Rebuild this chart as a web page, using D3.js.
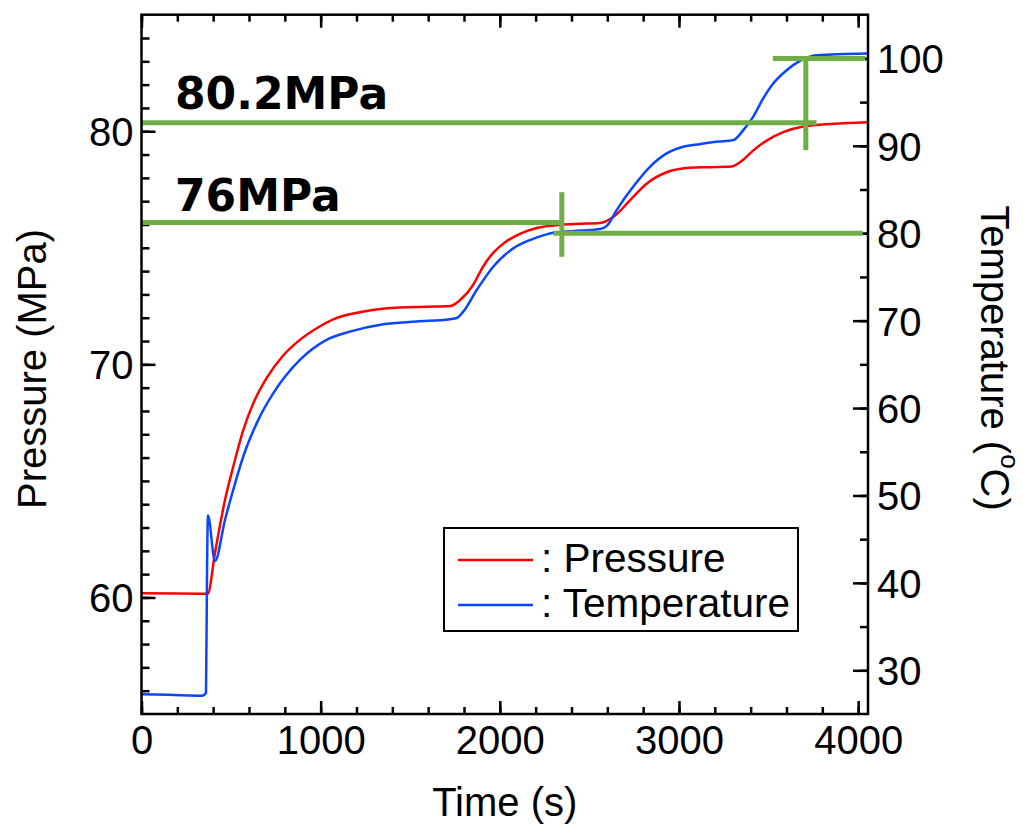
<!DOCTYPE html>
<meta charset="utf-8">
<style>

body {
  margin: 0;
  background: white;
}

text {
  font-family: "Liberation Sans", Arial, sans-serif;
  fill: #000;
}

.axis text {
  font-size: 40px;
}

.axis line {
  stroke: #000;
  stroke-width: 2.5px;
}

.axis .domain {
  display: none;
}

.frame {
  fill: none;
  stroke: #000;
  stroke-width: 2.5px;
}

.series {
  fill: none;
  stroke-width: 2.5px;
  stroke-linejoin: round;
}

.guides line {
  stroke: #70ad47;
  stroke-width: 5px;
}

.note {
  font-family: "DejaVu Sans", Verdana, sans-serif;
  font-weight: bold;
  font-size: 44px;
}

.title {
  font-size: 40px;
}

.legend rect {
  fill: white;
  stroke: #000;
  stroke-width: 2px;
}

.legend text {
  font-size: 40.5px;
}

</style>
<svg></svg>
<script src="https://cdn.jsdelivr.net/npm/d3@7"></script>
<script>

// pressure trace (s, MPa)
var pressureTime = [0, 200, 370, 410, 466, 512, 568, 624, 699, 791, 884, 978, 1070, 1257, 1443, 1600, 1722, 1777, 1852, 1889, 1926, 1963, 2019, 2112, 2205, 2335, 2450, 2559, 2633, 2726, 2819, 2931, 3042, 3154, 3294, 3340, 3414, 3489, 3582, 3693, 3861, 4050];
var pressureValues = [60.18, 60.17, 60.16, 61.9, 64.18, 65.61, 67.18, 68.33, 69.42, 70.38, 71.05, 71.55, 71.93, 72.29, 72.44, 72.47, 72.5, 72.75, 73.42, 73.95, 74.42, 74.78, 75.18, 75.6, 75.85, 75.99, 76.03, 76.06, 76.32, 77.03, 77.75, 78.24, 78.42, 78.46, 78.49, 78.67, 79.17, 79.6, 79.96, 80.2, 80.32, 80.39];

// temperature trace (s, degC)
var tempTime = [0, 150, 340, 360, 366, 371, 410, 466, 512, 568, 652, 736, 884, 1033, 1163, 1349, 1536, 1722, 1760, 1796, 1871, 1963, 2075, 2168, 2261, 2298, 2450, 2559, 2600, 2652, 2744, 2838, 2931, 3024, 3117, 3210, 3303, 3359, 3414, 3470, 3526, 3601, 3675, 3768, 4050];
var tempValues = [27.25, 27.2, 27.1, 27.4, 42, 47.7, 42.5, 47.2, 50.65, 54.46, 58.65, 61.7, 65.5, 67.8, 68.74, 69.6, 69.9, 70.16, 70.3, 71.03, 73.5, 76.17, 78.27, 79.22, 79.87, 80.05, 80.3, 80.48, 80.9, 82.65, 85.31, 87.6, 89.13, 89.89, 90.19, 90.46, 90.65, 91.79, 93.31, 95.42, 97.13, 98.65, 99.71, 100.37, 100.56];

var timeTicks = [0, 1000, 2000, 3000, 4000];
var pressureTicks = [60, 70, 80];
var tempTicks = [30, 40, 50, 60, 70, 80, 90, 100];

// green marker lines: [axis, t0, t1, v0, v1]
var guideSegments = [
  ['p', 0, 3768, 80.36, 80.36],
  ['t', 3708, 3708, 89.5, 100],
  ['t', 3524, 4040, 100, 100],
  ['p', 0, 2346, 76.09, 76.09],
  ['t', 2346, 2346, 77.3, 84.7],
  ['t', 2298, 4025, 80, 80]
];

var notes = [['80.2MPa', 80.95], ['76MPa', 76.6]];

var width = 1023;
var height = 827;
var plotLeft = 141.5, plotRight = 868, plotTop = 14.7, plotBottom = 714;

var svg = d3.select('svg')
  .attr('width', width)
  .attr('height', height);

var x = d3.scaleLinear().domain([0, 4055]).range([plotLeft, plotRight]);
var yP = d3.scaleLinear().domain([55, 85]).range([plotBottom, plotTop]);
var yT = d3.scaleLinear().domain([25, 105]).range([plotBottom, plotTop]);

svg.append('clipPath')
  .attr('id', 'plot')
  .append('rect')
  .attr('x', plotLeft).attr('y', plotTop)
  .attr('width', plotRight - plotLeft).attr('height', plotBottom - plotTop);

// ticks: minor then major on each side
function addAxis(axis, translate, cls) {
  return svg.append('g')
    .attr('class', 'axis ' + (cls || ''))
    .attr('transform', translate)
    .call(axis);
}

addAxis(d3.axisBottom(x).tickValues(d3.range(0, 4055, 200)).tickSize(-7).tickFormat(''), 'translate(0,' + plotBottom + ')');
addAxis(d3.axisBottom(x).tickValues(timeTicks).tickSize(-13).tickPadding(12).tickFormat(d3.format('d')), 'translate(0,' + plotBottom + ')', 'xaxis');
addAxis(d3.axisTop(x).tickValues(d3.range(0, 4055, 200)).tickSize(-7).tickFormat(''), 'translate(0,' + plotTop + ')');
addAxis(d3.axisTop(x).tickValues(timeTicks).tickSize(-13).tickFormat(''), 'translate(0,' + plotTop + ')');

addAxis(d3.axisLeft(yP).tickValues(d3.range(56, 85)).tickSize(-8).tickFormat(''), 'translate(' + plotLeft + ',0)');
addAxis(d3.axisLeft(yP).tickValues(pressureTicks).tickSize(-14).tickPadding(8), 'translate(' + plotLeft + ',0)');

addAxis(d3.axisRight(yT).tickValues(d3.range(30, 105, 5)).tickSize(-8).tickFormat(''), 'translate(' + plotRight + ',0)');
addAxis(d3.axisRight(yT).tickValues(tempTicks).tickSize(-15).tickPadding(9), 'translate(' + plotRight + ',0)');

svg.selectAll('.axis text').attr('dy', '0.36em');
svg.selectAll('.xaxis text').attr('dy', '0.71em');

var plot = svg.append('g').attr('clip-path', 'url(#plot)');

var pressureLine = d3.line()
  .curve(d3.curveMonotoneX)
  .x(function (d, i) { return x(pressureTime[i]); })
  .y(function (d) { return yP(d); });

var tempLine = d3.line()
  .curve(d3.curveMonotoneX)
  .x(function (d, i) { return x(tempTime[i]); })
  .y(function (d) { return yT(d); });

plot.append('path')
  .attr('class', 'series')
  .attr('stroke', '#ff0000')
  .attr('d', pressureLine(pressureValues));

plot.append('path')
  .attr('class', 'series')
  .attr('stroke', '#0a46ff')
  .attr('d', tempLine(tempValues));

svg.append('g')
  .attr('class', 'guides')
  .selectAll('line')
  .data(guideSegments)
  .enter().append('line')
  .attr('x1', function (d) { return x(d[1]); })
  .attr('x2', function (d) { return x(d[2]); })
  .attr('y1', function (d) { return (d[0] === 'p' ? yP : yT)(d[3]); })
  .attr('y2', function (d) { return (d[0] === 'p' ? yP : yT)(d[4]); });

svg.selectAll('.note')
  .data(notes)
  .enter().append('text')
  .attr('class', 'note')
  .attr('x', 175)
  .attr('y', function (d) { return yP(d[1]); })
  .text(function (d) { return d[0]; });

svg.append('rect')
  .attr('class', 'frame')
  .attr('x', plotLeft).attr('y', plotTop)
  .attr('width', plotRight - plotLeft).attr('height', plotBottom - plotTop);

// axis titles
svg.append('text')
  .attr('class', 'title')
  .attr('x', (plotLeft + plotRight) / 2)
  .attr('y', 816)
  .attr('text-anchor', 'middle')
  .text('Time (s)');

svg.append('text')
  .attr('class', 'title')
  .attr('transform', 'translate(46,369) rotate(-90)')
  .attr('text-anchor', 'middle')
  .text('Pressure (MPa)');

var tTitle = svg.append('text')
  .attr('class', 'title')
  .attr('transform', 'translate(981,358) rotate(90)')
  .attr('text-anchor', 'middle');
tTitle.append('tspan').text('Temperature (');
tTitle.append('tspan').attr('font-size', '26px').attr('dy', '-0.75em').text('o');
tTitle.append('tspan').attr('dy', '0.5em').text('C)');

// legend
var legend = svg.append('g').attr('class', 'legend');
legend.append('rect')
  .attr('x', 444).attr('y', 528)
  .attr('width', 354).attr('height', 103);

var legendItems = [['Pressure', '#ff0000', 560, 572], ['Temperature', '#0a46ff', 605, 617]];
legendItems.forEach(function (d) {
  legend.append('line')
    .attr('x1', 458).attr('x2', 533)
    .attr('y1', d[2]).attr('y2', d[2])
    .attr('stroke', d[1])
    .attr('stroke-width', 2.5);
  legend.append('text')
    .attr('x', 541)
    .attr('y', d[3])
    .text(': ' + d[0]);
});

</script>
